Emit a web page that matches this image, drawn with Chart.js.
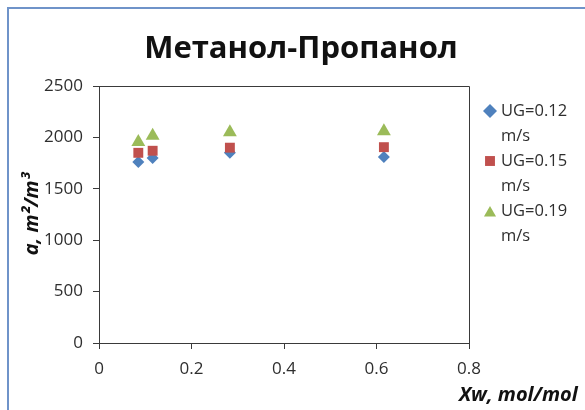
<!DOCTYPE html>
<html>
<head>
<meta charset="utf-8">
<script src="https://cdn.jsdelivr.net/npm/chart.js@4/dist/chart.umd.min.js"></script>
<style>
  html, body { margin: 0; padding: 0; background: #ffffff; }
  #wrap { position: relative; width: 585px; height: 410px; overflow: hidden; }
  canvas { display: block; }
</style>
</head>
<body>
<div id="wrap"><canvas id="chart" width="585" height="410"></canvas></div>
<script>
// Mole fraction of the liquid phase, Xw (mol/mol)
const xw = [0.085, 0.116, 0.283, 0.616];

// Specific interfacial area a (m2/m3) for each gas velocity
const ug012 = [1760, 1800, 1850, 1810];
const ug015 = [1850, 1870, 1900, 1905];
const ug019 = [1955, 2015, 2050, 2060];

const seriesNames = ['UG=0.12 m/s', 'UG=0.15 m/s', 'UG=0.19 m/s'];
const xTicks = [0, 0.2, 0.4, 0.6, 0.8];
const yTicks = [0, 500, 1000, 1500, 2000, 2500];

const titleText = 'Метанол-Пропанол';
const xTitle = 'Xw, mol/mol';
const yTitle = 'a, m²/m³';

const colors = ['#4F81BD', '#C0504D', '#9BBB59'];
const styles = ['rectRot', 'rect', 'triangle'];
const radii = [6, 7, 8];
const AXIS = '#3a3a3a';
const TEXT = '#2e2e2e';
const FONT = '"Open Sans", "DejaVu Sans", sans-serif';

function points(ys) { return xw.map((x, i) => ({ x: x, y: ys[i] })); }

const values = [ug012, ug015, ug019];
const datasets = values.map((ys, i) => ({
  label: seriesNames[i],
  data: points(ys),
  pointStyle: styles[i],
  pointRadius: radii[i],
  pointHoverRadius: radii[i],
  backgroundColor: colors[i],
  borderColor: colors[i],
  borderWidth: 0,
  showLine: false,
  order: 3 - i
}));

function marker(ctx, style, x, y, r, color) {
  ctx.save();
  ctx.fillStyle = color;
  ctx.beginPath();
  if (style === 'rectRot') {
    ctx.moveTo(x, y - r); ctx.lineTo(x + r, y); ctx.lineTo(x, y + r); ctx.lineTo(x - r, y);
  } else if (style === 'rect') {
    const s = r * Math.SQRT1_2;
    ctx.rect(x - s, y - s, 2 * s, 2 * s);
  } else {
    ctx.moveTo(x, y - r); ctx.lineTo(x + r * 0.866, y + r * 0.5); ctx.lineTo(x - r * 0.866, y + r * 0.5);
  }
  ctx.closePath();
  ctx.fill();
  ctx.restore();
}

const decor = {
  id: 'decor',
  beforeDraw(chart) {
    const ctx = chart.ctx;
    ctx.save();
    // outer frame edges
    ctx.strokeStyle = '#6f93c9';
    ctx.lineWidth = 2;
    ctx.beginPath();
    ctx.moveTo(8, 410); ctx.lineTo(8, 8); ctx.lineTo(585, 8);
    ctx.stroke();
    ctx.restore();
  },
  afterDraw(chart) {
    const ctx = chart.ctx;
    const a = chart.chartArea;
    ctx.save();
    // plot area top and right border
    ctx.strokeStyle = AXIS;
    ctx.lineWidth = 1;
    ctx.beginPath();
    ctx.moveTo(Math.round(a.left) - 0.5, Math.round(a.top) + 0.5);
    ctx.lineTo(Math.round(a.right) + 0.5, Math.round(a.top) + 0.5);
    ctx.lineTo(Math.round(a.right) + 0.5, Math.round(a.bottom));
    ctx.stroke();

    // title
    ctx.fillStyle = '#111111';
    ctx.font = 'bold 31px ' + FONT;
    ctx.textAlign = 'center';
    ctx.textBaseline = 'alphabetic';
    ctx.fillText(titleText, 301, 58);

    // axis titles
    ctx.font = 'italic bold 20px ' + FONT;
    ctx.textAlign = 'left';
    ctx.fillText(xTitle, 459, 401);

    ctx.save();
    ctx.translate(38, 214);
    ctx.rotate(-Math.PI / 2);
    ctx.textAlign = 'center';
    ctx.font = 'italic bold 20px ' + FONT;
    ctx.fillText(yTitle, 0, 0);
    ctx.restore();

    // legend, each entry wrapped over two lines
    ctx.font = '16.5px ' + FONT;
    ctx.fillStyle = TEXT;
    ctx.textBaseline = 'middle';
    ctx.textAlign = 'left';
    seriesNames.forEach((name, i) => {
      const y = 111 + i * 50;
      const cut = name.lastIndexOf(' ');
      const my = styles[i] === 'triangle' ? y + 2 : y;
      marker(ctx, styles[i], 490, my, 7, colors[i]);
      ctx.fillText(name.slice(0, cut), 501, y);
      ctx.fillText(name.slice(cut + 1), 501, y + 25);
    });
    ctx.restore();
  }
};

new Chart(document.getElementById('chart'), {
  type: 'scatter',
  data: { datasets: datasets },
  options: {
    responsive: false,
    animation: false,
    events: [],
    layout: { padding: { left: 0, right: 116, top: 86, bottom: 0 } },
    plugins: { legend: { display: false }, title: { display: false }, tooltip: { enabled: false } },
    scales: {
      x: {
        type: 'linear',
        min: xTicks[0],
        max: xTicks[xTicks.length - 1],
        afterFit(s) { s.height = 67; },
        afterBuildTicks(s) { s.ticks = xTicks.map(v => ({ value: v })); },
        border: { color: AXIS, width: 1 },
        grid: { drawOnChartArea: false, drawTicks: true, tickLength: 6, color: AXIS },
        ticks: { color: TEXT, font: { family: FONT, size: 17 }, padding: 10, maxRotation: 0,
                 callback: v => String(v) }
      },
      y: {
        type: 'linear',
        min: yTicks[0],
        max: yTicks[yTicks.length - 1],
        afterFit(s) { s.width = 99; },
        afterBuildTicks(s) { s.ticks = yTicks.map(v => ({ value: v })); },
        border: { color: AXIS, width: 1 },
        grid: { drawOnChartArea: false, drawTicks: true, tickLength: 6, color: AXIS },
        ticks: { color: TEXT, font: { family: FONT, size: 17 }, padding: 10,
                 callback: v => String(v) }
      }
    }
  },
  plugins: [decor]
});
</script>
</body>
</html>
